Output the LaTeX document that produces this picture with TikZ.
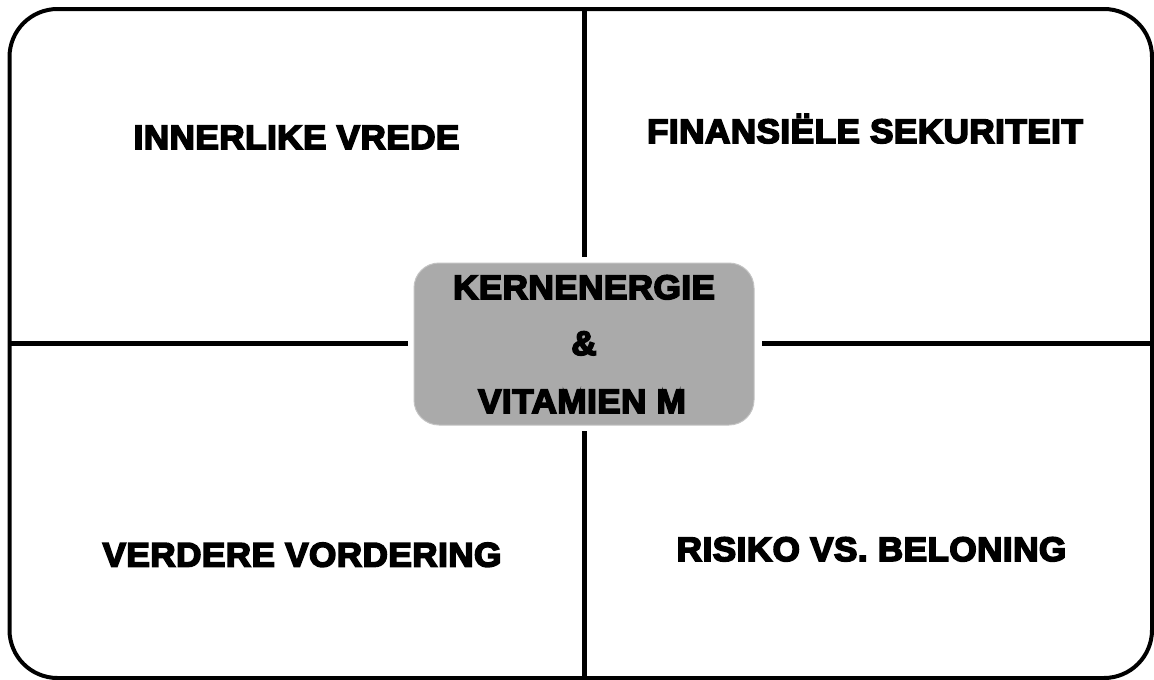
\documentclass[tikz,border=0pt]{standalone}
\usepackage{fontspec}
\newfontfamily\heavy{Liberation Sans}[FakeBold=5, FakeStretch=1.03, LetterSpace=1.5]
\definecolor{boxgray}{RGB}{170,170,170}
\definecolor{boxedge}{RGB}{195,195,195}
\tikzset{
  frame/.style={line width=4pt, rounded corners=48pt},
  divider/.style={line width=5pt, draw=black},
  label/.style={anchor=base, inner sep=0pt, font=\heavy\bfseries\fontsize{34}{40}\selectfont},
  corelabel/.style={anchor=base, inner sep=0pt, font=\heavy\bfseries\fontsize{34}{40}\selectfont},
  corebox/.style={fill=boxgray, draw=boxedge, line width=1pt, rounded corners=25pt,
                  minimum width=340pt, minimum height=162pt, inner sep=0pt}
}
\begin{document}
\begin{tikzpicture}[x=1pt,y=-1pt]
\useasboundingbox (0,0) rectangle (1154,680);
\clip (0,0) rectangle (1154,680);
\fill[white] (0,0) rectangle (1154,680);
\draw[frame] (9.5,9) rectangle (1152,678);
\node[corebox] (core) at (584,344) {};
\coordinate (top) at (584,9);
\coordinate (bottom) at (584,678);
\coordinate (left) at (9.5,343);
\coordinate (right) at (1152,343);
\draw[divider, shorten >=6pt] (top) -- (core.north);
\draw[divider, shorten >=5pt] (bottom) -- (core.south);
\draw[divider, shorten >=6pt] (left) -- (core.west |- left);
\draw[divider, shorten >=7pt] (right) -- (core.east |- right);
\node[corelabel] (kern) at (584,299) {KERNENERGIE};
\node[corelabel] (amp) at (584,355) {\&};
\node[corelabel] (vit) at (582,413) {VITAMIEN M};
\node[label] (inner) at (296.5,149) {INNERLIKE VREDE};
\node[label] (fin) at (865,143) {FINANSIËLE SEKURITEIT};
\node[label] (verd) at (302,566.5) {VERDERE VORDERING};
\node[label] (ris) at (871.5,561) {RISIKO VS. BELONING};
\end{tikzpicture}
\end{document}
